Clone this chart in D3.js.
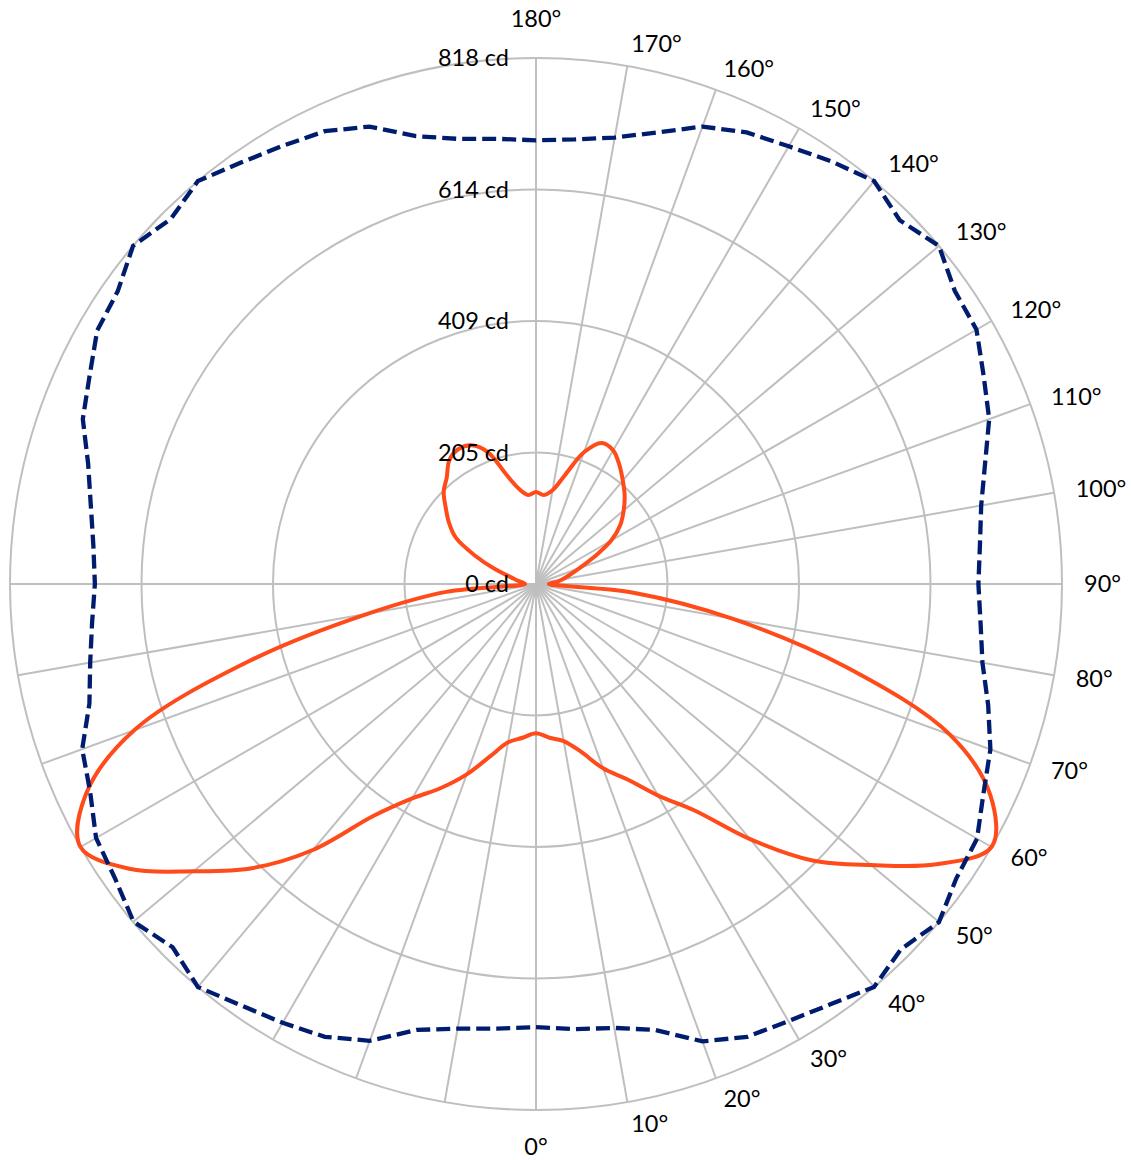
<!DOCTYPE html>
<html>
<head>
<meta charset="utf-8">
<script src="https://cdn.jsdelivr.net/npm/d3@7"></script>
<style>
  html, body { margin: 0; padding: 0; background: #ffffff; }
  text { font-family: Lato, "Liberation Sans", sans-serif; font-size: 23.5px; fill: #000; }
</style>
</head>
<body>
<svg id="chart" width="1131" height="1160"></svg>
<script>
// ---- data (angles in degrees measured from the bottom, toward the right side) ----
const sampleAngles = [0,5,10,15,20,25,30,35,40,45,50,55,60,65,70,75,80,85,
  90,95,100,105,110,115,120,125,130,135,140,145,150,155,160,165,170,175,
  180,185,190,195,200,205,210,215,220,225,230,235,240,245,250,255,260,265,
  270,275,280,285,290,295,300,305,310,315,320,325,330,335,340,345,350,355];

// solid orange-red curve (cd)
const seriesA = [232,240,248,270,305,335,380,430,518,608,680,760,818,780,685,500,310,150,
  20,32,42,54,72,100,135,160,178,195,210,226,240,242,218,176,148,139,
  143,139,150,175,218,238,242,235,216,203,183,165,144,105,68,40,28,20,
  17,140,265,460,665,772,818,772,695,625,540,440,385,350,315,278,250,240];

// dashed dark-blue curve (cd)
const seriesB = [689,695,701,718,757,777,785,798,818,803,818,798,792,768,752,728,705,694,
  688,693,703,723,750,768,791,795,818,800,818,802,786,775,757,727,705,694,
  690,695,703,721,757,777,787,800,818,803,818,794,788,766,750,721,703,691,
  686,693,704,719,751,765,790,799,817,799,818,800,788,777,756,718,702,694];

const maxValue = 818;
const ringValues = [204.5, 409, 613.5, 818];
const ringLabelValues = [0, 204.5, 409, 613.5, 818];
const spokeAngles = [0,10,20,30,40,50,60,70,80,90,100,110,120,130,140,150,160,170,180,
  270,280,290,300,310,320,330,340,350];
const angleLabels = [0,10,20,30,40,50,60,70,80,90,100,110,120,130,140,150,160,170,180];

// ---- layout ----
const W = 1131, H = 1160;
const CX = 536, CY = 584, R = 526;
const LABEL_R = 548;

const svg = d3.select("#chart");
svg.append("rect").attr("width", W).attr("height", H).attr("fill", "#fff");
const g = svg.append("g").attr("transform", `translate(${CX},${CY})`);

const rScale = d3.scaleLinear().domain([0, maxValue]).range([0, R]);
const toRad = d => d * Math.PI / 180;
const px = (r, a) => r * Math.sin(toRad(a));
const py = (r, a) => r * Math.cos(toRad(a));

// grid rings
g.append("g").selectAll("circle").data(ringValues).join("circle")
  .attr("r", d => rScale(d))
  .attr("fill", "none").attr("stroke", "#bfbfbf").attr("stroke-width", 2);

// spokes
g.append("g").selectAll("line").data(spokeAngles).join("line")
  .attr("x1", 0).attr("y1", 0)
  .attr("x2", d => px(R, d)).attr("y2", d => py(R, d))
  .attr("stroke", "#bfbfbf").attr("stroke-width", 2);

// curves
const radialSmooth = d3.lineRadial()
  .angle(d => Math.PI - toRad(d[0]))
  .radius(d => rScale(d[1]))
  .curve(d3.curveCatmullRomClosed.alpha(0.5));
const radialLinear = d3.lineRadial()
  .angle(d => Math.PI - toRad(d[0]))
  .radius(d => rScale(d[1]))
  .curve(d3.curveLinearClosed);

const dataA = sampleAngles.map((a, i) => [a, seriesA[i]]);
const dataB = sampleAngles.map((a, i) => [a, seriesB[i]]);

g.append("path").attr("d", radialSmooth(dataA))
  .attr("fill", "none").attr("stroke", "#ff4a1a").attr("stroke-width", 4)
  .attr("stroke-linejoin", "round");

g.append("path").attr("d", radialLinear(dataB))
  .attr("fill", "none").attr("stroke", "#001c6e").attr("stroke-width", 4.3)
  .attr("stroke-dasharray", "14,6");

// radial value labels
g.append("g").selectAll("text").data(ringLabelValues).join("text")
  .attr("x", -27)
  .attr("y", d => -rScale(d) + 8)
  .attr("text-anchor", "end")
  .text(d => Math.round(d) + " cd");

// angle labels
g.append("g").selectAll("text").data(angleLabels).join("text")
  .attr("x", d => (d === 0 || d === 180) ? 0 : px(LABEL_R, d))
  .attr("y", d => {
    if (d === 0) return LABEL_R + 23;
    if (d === 180) return -LABEL_R - 9;
    return py(LABEL_R, d) + 8;
  })
  .attr("text-anchor", d => (d === 0 || d === 180) ? "middle" : "start")
  .text(d => d + "°");
</script>
</body>
</html>
